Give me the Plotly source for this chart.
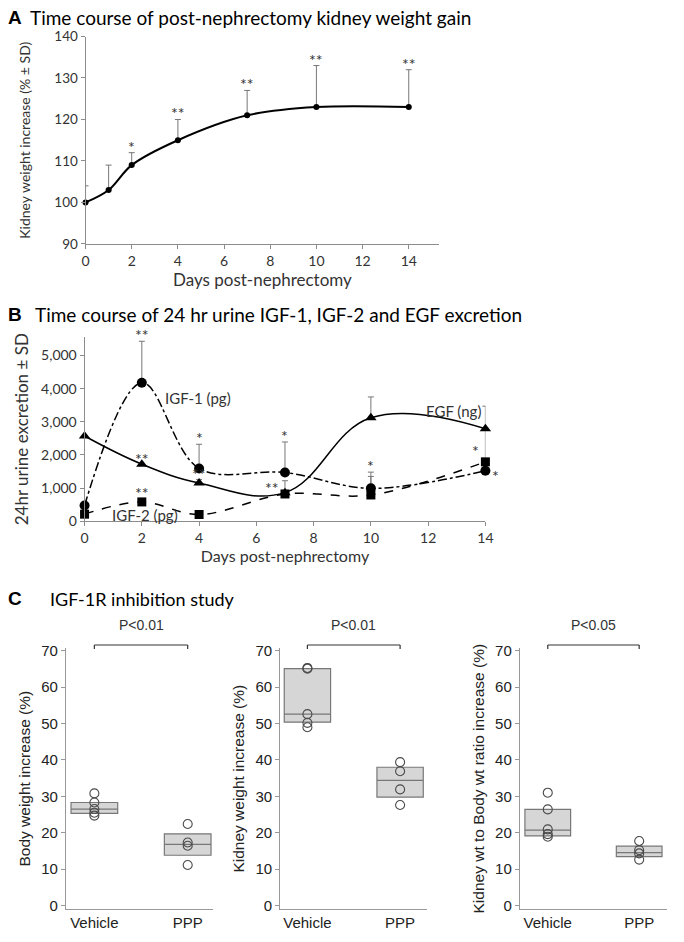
import plotly.graph_objects as go

W, H = 684, 942


def px(x):
    return x / W


def py(y):
    return 1 - y / H


# ---------------- Panel A data ----------------
a_days = [0, 1, 2, 4, 7, 10, 14]
a_weight = [100, 103, 109, 115, 121, 123, 123]
a_sd = [4, 6, 3, 5, 6, 10, 9]
a_sig = ["", "", "*", "**", "**", "**", "**"]

# ---------------- Panel B data ----------------
b_days = [0, 2, 4, 7, 10, 14]
igf1 = [470, 4180, 1590, 1470, 990, 1520]
igf1_sd = [0, 1250, 730, 920, 490, 0]
igf1_sig = ["", "**", "*", "*", "*", "*"]
egf = [2570, 1720, 1150, 860, 3120, 2790]
egf_sd = [0, 0, 110, 360, 630, 680]
egf_sig = ["", "**", "**", "**", "", ""]
igf2 = [210, 580, 200, 820, 790, 1790]
igf2_sd = [0, 0, 0, 0, 560, 1000]
igf2_sig = ["", "**", "", "", "", "*"]

# ---------------- Panel C data ----------------
groups = ["Vehicle", "PPP"]
bw_pts = [[30.8, 28.3, 26.5, 25.5, 24.7], [22.4, 17.3, 16.4, 11.1]]
bw_q1 = [25.3, 13.8]
bw_med = [26.5, 16.8]
bw_q3 = [28.3, 19.7]
kw_pts = [[65.3, 65.1, 52.6, 50.2, 49.0], [39.4, 36.9, 31.9, 27.6]]
kw_q1 = [50.4, 29.8]
kw_med = [52.6, 34.4]
kw_q3 = [65.1, 38.0]
rt_pts = [[31.0, 26.4, 20.9, 19.6, 18.9], [17.7, 15.2, 14.3, 12.6]]
rt_q1 = [19.1, 13.4]
rt_med = [20.7, 14.5]
rt_q3 = [26.4, 16.3]
p_labels = ["P<0.01", "P<0.01", "P<0.05"]
c_titles = ["Body weight increase (%)", "Kidney weight increase (%)",
            "Kidney wt to Body wt ratio increase (%)"]

AB_FONT = "Lato"
C_FONT = "Liberation Sans"
AXC = "#8c8c8c"
TXT = "#333333"

fig = go.Figure()

# Panel A trace
fig.add_trace(go.Scatter(
    x=a_days, y=a_weight, mode="lines+markers",
    line=dict(color="black", width=2, shape="spline", smoothing=1.0),
    marker=dict(color="black", size=6),
    error_y=dict(type="data", symmetric=False, array=a_sd,
                 arrayminus=[0] * len(a_sd), color="#777777", thickness=1, width=3),
    xaxis="x", yaxis="y", showlegend=False, cliponaxis=False))

# Panel B traces
err_kw = dict(type="data", symmetric=False, color="#777777", thickness=1, width=3)
fig.add_trace(go.Scatter(
    x=b_days, y=igf2, mode="lines+markers",
    line=dict(color="black", width=1.5, dash="dash", shape="spline", smoothing=1.0),
    marker=dict(color="black", size=9, symbol="square"),
    error_y=dict(array=igf2_sd, arrayminus=[0] * 6, **err_kw),
    xaxis="x2", yaxis="y2", showlegend=False, cliponaxis=False))
fig.add_trace(go.Scatter(
    x=b_days, y=egf, mode="lines+markers",
    line=dict(color="black", width=1.5, shape="spline", smoothing=1.15),
    marker=dict(color="black", size=10, symbol="triangle-up"),
    error_y=dict(array=egf_sd, arrayminus=[0] * 6, **err_kw),
    xaxis="x2", yaxis="y2", showlegend=False, cliponaxis=False))
fig.add_trace(go.Scatter(
    x=b_days, y=igf1, mode="lines+markers",
    line=dict(color="black", width=1.5, dash="dashdot", shape="spline", smoothing=1.0),
    marker=dict(color="black", size=10, symbol="circle"),
    error_y=dict(array=igf1_sd, arrayminus=[0] * 6, **err_kw),
    xaxis="x2", yaxis="y2", showlegend=False, cliponaxis=False))

# Panel C traces
c_sets = [(bw_pts, bw_q1, bw_med, bw_q3), (kw_pts, kw_q1, kw_med, kw_q3),
          (rt_pts, rt_q1, rt_med, rt_q3)]
for i, (pts, q1, med, q3) in enumerate(c_sets):
    xa = "x%d" % (i + 3)
    ya = "y%d" % (i + 3)
    fig.add_trace(go.Box(
        x=groups, q1=q1, median=med, q3=q3, lowerfence=q1, upperfence=q3,
        fillcolor="#d6d6d6", line=dict(color="#777777", width=1.2),
        width=0.5, whiskerwidth=0, boxpoints=False,
        xaxis=xa, yaxis=ya, showlegend=False, hoverinfo="skip"))
    xs, ys = [], []
    for g, vals in zip(groups, pts):
        xs += [g] * len(vals)
        ys += vals
    fig.add_trace(go.Scatter(
        x=xs, y=ys, mode="markers",
        marker=dict(symbol="circle-open", size=9, color="#4a4a4a", line=dict(width=1.1)),
        xaxis=xa, yaxis=ya, showlegend=False, cliponaxis=False))

annotations = []
shapes = []

# Stars panel A
for d, v, s, sig in zip(a_days, a_weight, a_sd, a_sig):
    if sig:
        annotations.append(dict(x=d, y=v + s, xref="x", yref="y", text=sig, showarrow=False,
                                yanchor="bottom", yshift=-5,
                                font=dict(family=AB_FONT, size=16, color=TXT)))


# Stars panel B
def b_star(d, v, s, sig, xshift=0, yshift=-5, xanchor="center", yanchor="bottom"):
    annotations.append(dict(x=d, y=v + s, xref="x2", yref="y2", text=sig, showarrow=False,
                            xanchor=xanchor, yanchor=yanchor, xshift=xshift, yshift=yshift,
                            font=dict(family=AB_FONT, size=16, color=TXT)))


for d, v, s, sig in zip(b_days, igf1, igf1_sd, igf1_sig):
    if sig:
        if d == 14:
            b_star(d, v, s, sig, xshift=5, yshift=-16, xanchor="left")
        else:
            b_star(d, v, s, sig)
for d, v, s, sig in zip(b_days, egf, egf_sd, egf_sig):
    if sig:
        if d == 7:
            b_star(d, v, s, sig, xshift=-4, yshift=-18, xanchor="right")
        else:
            b_star(d, v, s, sig, yshift=-6)
for d, v, s, sig in zip(b_days, igf2, igf2_sd, igf2_sig):
    if sig:
        if d == 14:
            b_star(d, v, 0, sig, xshift=-4, yshift=0, xanchor="right")
        else:
            b_star(d, v, s, sig, yshift=-2)

# Series labels panel B
annotations.append(dict(x=3.95, y=3720, xref="x2", yref="y2", text="IGF-1 (pg)", showarrow=False,
                        font=dict(family=AB_FONT, size=15, color=TXT)))
annotations.append(dict(x=12.87, y=3310, xref="x2", yref="y2", text="EGF (ng)", showarrow=False,
                        font=dict(family=AB_FONT, size=15, color=TXT)))
annotations.append(dict(x=2.1, y=200, xref="x2", yref="y2", text="IGF-2 (pg)", showarrow=False,
                        font=dict(family=AB_FONT, size=15, color=TXT)))

# Panel titles
for letter, title, tx, ty, fs in [("A", "Time course of post-nephrectomy kidney weight gain", 24, 10, 19),
                                  ("B", "Time course of 24 hr urine IGF-1, IGF-2 and EGF excretion", 30, 312, 19),
                                  ("C", "IGF-1R inhibition study", 45, 601, 18)]:
    annotations.append(dict(x=px(2), y=py(ty), xref="paper", yref="paper", text="<b>%s</b>" % letter,
                            showarrow=False, xanchor="left", yanchor="middle",
                            font=dict(family="Liberation Sans", size=19, color="black")))
    annotations.append(dict(x=px(tx), y=py(ty), xref="paper", yref="paper", text=title,
                            showarrow=False, xanchor="left", yanchor="middle",
                            font=dict(family=AB_FONT, size=fs, color="black")))

# P-value brackets panel C
for i, lab in enumerate(p_labels):
    xa = "x%d" % (i + 3)
    yb = py(648)
    ye = py(652)
    shapes.append(dict(type="line", xref=xa, yref="paper", x0=0, x1=1, y0=yb, y1=yb,
                       line=dict(color="#333333", width=1.2)))
    for xx in (0, 1):
        shapes.append(dict(type="line", xref=xa, yref="paper", x0=xx, x1=xx, y0=yb, y1=ye,
                           line=dict(color="#333333", width=1.2)))
    annotations.append(dict(x=0.5, y=py(638), xref=xa, yref="paper", text=lab, showarrow=False,
                            font=dict(family=C_FONT, size=14, color=TXT)))

ab_axis = dict(showline=True, linecolor=AXC, linewidth=1, ticks="outside", tickcolor=AXC,
               ticklen=4, showgrid=False, zeroline=False)

layout = dict(
    width=W, height=H, margin=dict(l=0, r=0, t=0, b=0),
    paper_bgcolor="white", plot_bgcolor="white",
    font=dict(family=AB_FONT, color=TXT),
    xaxis=dict(domain=[px(83), px(443)], range=[0, 15.32], tickvals=list(range(0, 15, 2)),
               anchor="y", tickfont=dict(family=AB_FONT, size=14, color=TXT),
               title=dict(text="Days post-nephrectomy", standoff=3,
                          font=dict(family=AB_FONT, size=17, color=TXT)), **ab_axis),
    yaxis=dict(domain=[py(240), py(29)], range=[90, 140], dtick=10, anchor="x",
               tickfont=dict(family=AB_FONT, size=13.5, color=TXT),
               title=dict(text="Kidney weight increase (% ± SD)", standoff=20,
                          font=dict(family=AB_FONT, size=14, color=TXT)), **ab_axis),
    xaxis2=dict(domain=[px(82), px(490)], range=[0, 14], tickvals=list(range(0, 15, 2)),
                anchor="y2", tickfont=dict(family=AB_FONT, size=14, color=TXT),
                title=dict(text="Days post-nephrectomy", standoff=1,
                           font=dict(family=AB_FONT, size=16, color=TXT)), **ab_axis),
    yaxis2=dict(domain=[py(522), py(335)], range=[0, 5550], tickvals=[0, 1000, 2000, 3000, 4000, 5000],
                tickformat=",", anchor="x2", tickfont=dict(family=AB_FONT, size=14, color=TXT),
                title=dict(text="24hr urine excretion ± SD", standoff=8,
                           font=dict(family=AB_FONT, size=17, color=TXT)), **ab_axis),
    annotations=annotations, shapes=shapes,
)

c_xdom = [(63, 213), (281, 431), (525, 675)]
c_xrng = [(-0.305, 1.274), (-0.295, 1.295), (-0.306, 1.306)]
for i in range(3):
    n = i + 3
    layout["xaxis%d" % n] = dict(domain=[px(c_xdom[i][0]), px(c_xdom[i][1])], range=list(c_xrng[i]),
                                 anchor="y%d" % n, type="category", showline=True, linecolor="#999999",
                                 ticks="", showgrid=False, zeroline=False,
                                 tickfont=dict(family=C_FONT, size=15, color="#222222"))
    layout["yaxis%d" % n] = dict(domain=[py(917), py(651)], range=[-1.1, 70.8], anchor="x%d" % n,
                                 tickvals=list(range(0, 71, 10)), showline=True, linecolor="#999999",
                                 ticks="outside", tickcolor="#999999", ticklen=4, showgrid=False,
                                 zeroline=False, tickfont=dict(family=C_FONT, size=15, color="#222222"),
                                 title=dict(text=c_titles[i], standoff=6,
                                            font=dict(family=C_FONT, size=15.5, color="#222222")))

fig.update_layout(**layout)
fig.write_html("out.html", config={"displayModeBar": False},
               post_script="document.body.style.margin='0';document.body.style.overflow='hidden';")
